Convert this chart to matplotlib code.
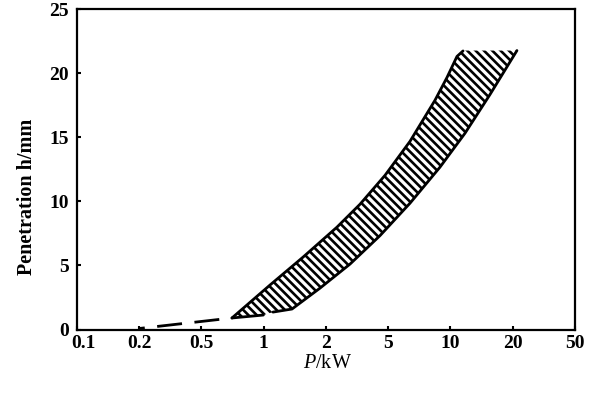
import numpy as np
import matplotlib
matplotlib.use("Agg")
import matplotlib.pyplot as plt
import matplotlib.transforms as mtransforms

plt.rcParams['font.family'] = ['Liberation Serif', 'DejaVu Serif']
plt.rcParams['mathtext.fontset'] = 'custom'
plt.rcParams['mathtext.it'] = 'Liberation Serif:italic'
plt.rcParams['mathtext.rm'] = 'Liberation Serif'
plt.rcParams['hatch.linewidth'] = 1.9

# Data
x_ticks = [0.1, 0.2, 0.5, 1, 2, 5, 10, 20, 50]
x_tick_labels = ['0.1', '0.2', '0.5', '1', '2', '5', '10', '20', '50']
y_ticks = [0, 5, 10, 15, 20, 25]

upper_P = [0.702, 1.072, 1.549, 2.35, 3.30, 4.77, 6.37, 8.41, 9.62, 10.75, 11.50]
upper_h = [0.90, 3.47, 5.65, 7.99, 9.78, 12.04, 14.69, 17.89, 19.68, 21.32, 21.75]

lower_tip_P = [0.702, 0.996]
lower_tip_h = [0.90, 1.13]

lower_P = [1.108, 1.370, 1.871, 2.85, 4.43, 6.37, 8.89, 11.75, 15.53, 21.28]
lower_h = [1.36, 1.60, 3.23, 5.11, 7.33, 9.86, 12.67, 15.32, 18.35, 21.78]

top_h = 21.78

dash_P = [0.2, 0.702]
dash_h = [0.08, 0.90]

log_ticks = np.log10(x_ticks)
idx = np.arange(len(x_ticks), dtype=float)


def fwd(p):
    p = np.asarray(p, dtype=float)
    return np.interp(np.log10(np.clip(p, 1e-6, None)), log_ticks, idx)


def inv(i):
    i = np.asarray(i, dtype=float)
    return 10 ** np.interp(i, idx, log_ticks)


fig = plt.figure(figsize=(6, 3.96), dpi=100)
ax = fig.add_axes([0.1283, 0.1679, 0.83, 0.8086])
ax.set_xscale('function', functions=(fwd, inv))
ax.set_xlim(0.1, 50)
ax.set_ylim(0, 25)

# hatched band
poly_P = upper_P + [upper_P[-1], lower_P[-1]] + lower_P[::-1] + lower_tip_P[::-1]
poly_h = upper_h + [top_h, top_h] + lower_h[::-1] + lower_tip_h[::-1]
ax.fill(poly_P, poly_h, facecolor='none', edgecolor='black',
        hatch='\\\\\\\\', linewidth=0)

ax.plot(upper_P, upper_h, color='black', lw=2.0, solid_joinstyle='round',
        solid_capstyle='round')
ax.plot(lower_P, lower_h, color='black', lw=2.0, solid_joinstyle='round',
        solid_capstyle='round')
ax.plot(lower_tip_P, lower_tip_h, color='black', lw=2.0, solid_capstyle='round')
ax.plot(dash_P, dash_h, color='black', lw=2.0, linestyle=(7.0, (9, 4.5)))

ax.set_xticks(x_ticks)
ax.set_xticklabels(x_tick_labels)
ax.minorticks_off()
ax.set_yticks(y_ticks)
ax.tick_params(direction='in', length=3, width=1.5, labelsize=14)
ax.tick_params(axis='x', pad=4)
ax.tick_params(axis='y', pad=6)
for lab in ax.get_xticklabels() + ax.get_yticklabels():
    lab.set_fontweight('bold')
# first x label sits slightly right of its tick in the reference
first = ax.get_xticklabels()[0]
first.set_transform(first.get_transform() +
                    mtransforms.ScaledTranslation(6 / 100, 0, fig.dpi_scale_trans))
for s in ax.spines.values():
    s.set_linewidth(1.6)

ax.set_ylabel('Penetration h/mm', fontsize=14.5, fontweight='bold')
ax.yaxis.set_label_coords(-0.08, 0.415)
ax.set_xlabel(r'$\mathit{P}$/kW', fontsize=14.5)
ax.xaxis.set_label_coords(0.504, -0.075)

fig.savefig('out.png', dpi=100)
